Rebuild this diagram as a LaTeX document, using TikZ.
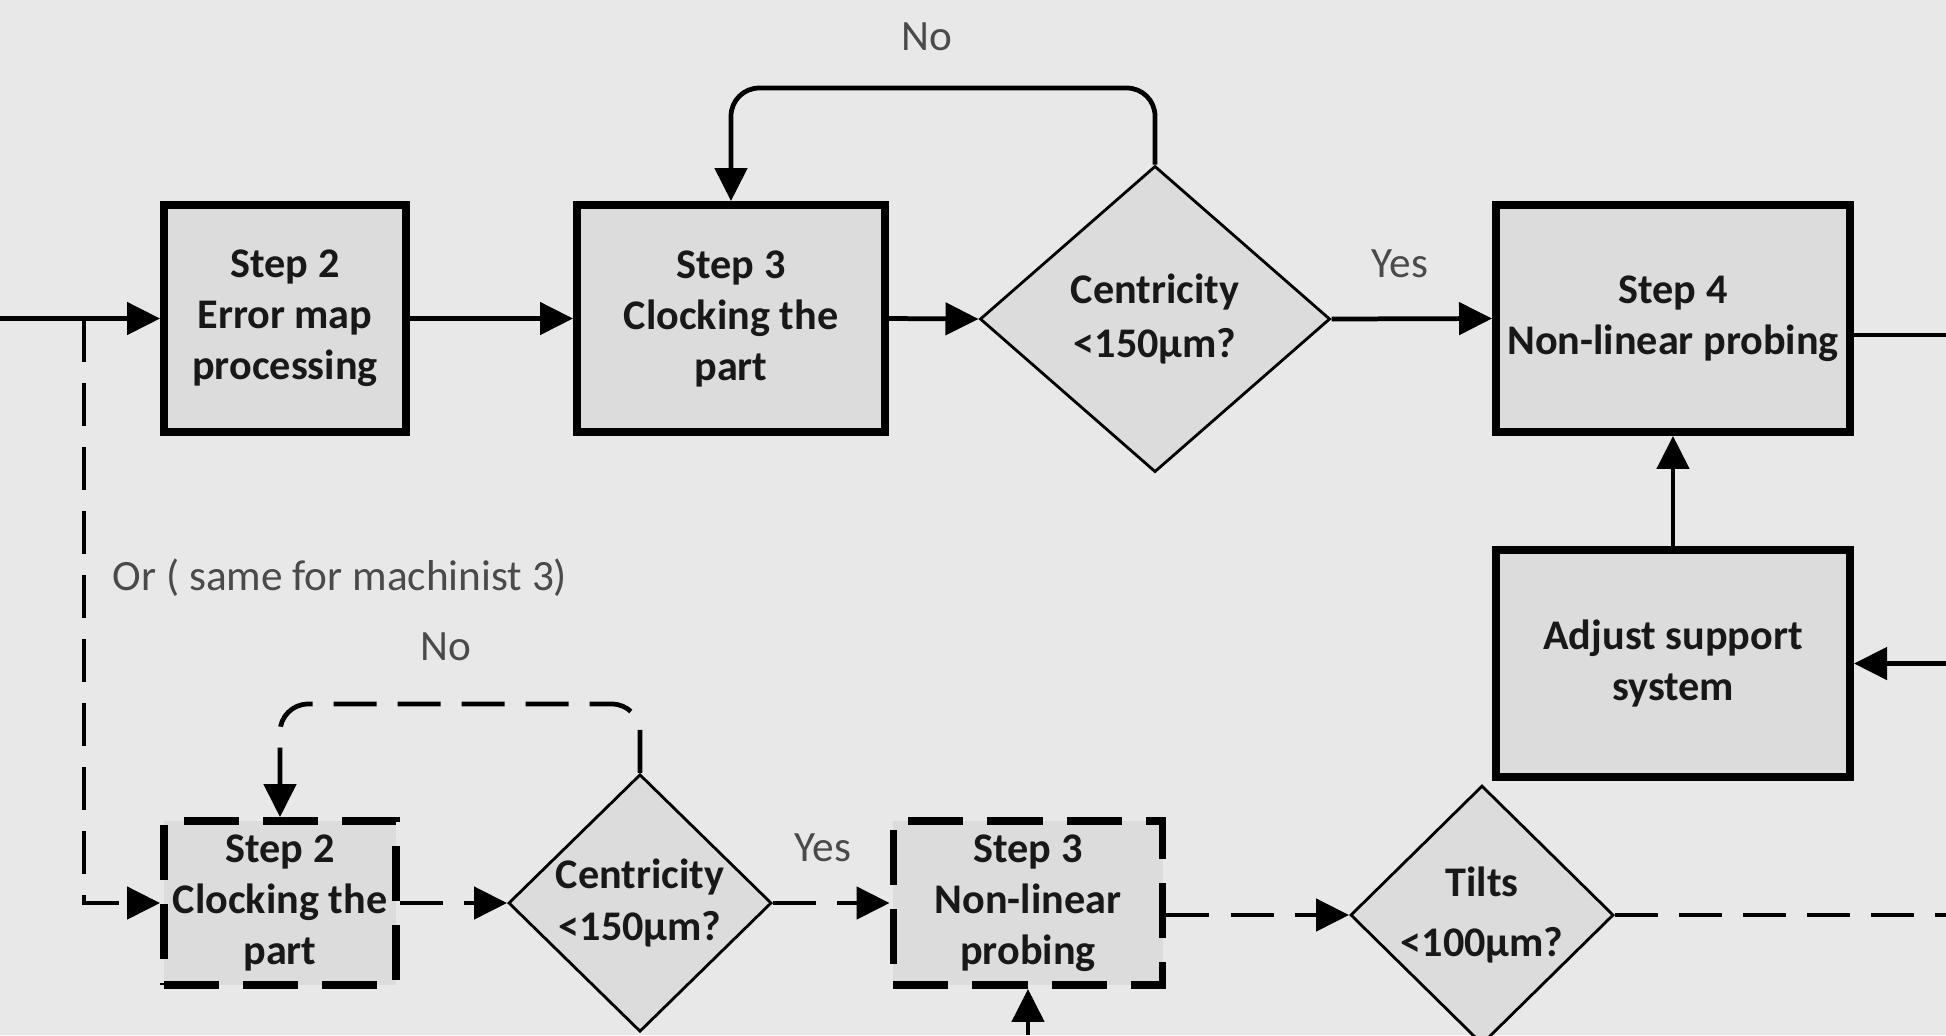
\documentclass[tikz,border=0pt]{standalone}
\usepackage{fontspec}
\setmainfont{Carlito}
\usetikzlibrary{arrows.meta,shapes.geometric}
\definecolor{bg}{HTML}{E8E8E8}
\definecolor{boxfill}{HTML}{DCDCDC}
\definecolor{txt}{HTML}{181818}
\definecolor{lbl}{HTML}{4A4A4A}
\begin{document}
\begin{tikzpicture}[x=0.01cm,y=-0.01cm,
 stepbox/.style={draw=black, line width=2.2pt, fill=boxfill, align=center, inner sep=0pt, font=\bfseries\fontsize{12}{14.5}\selectfont, text=txt},
 dstepbox/.style={stepbox, dash pattern=on 0.55cm off 0.24cm},
 dec/.style={diamond, draw=black, line width=0.8pt, fill=boxfill, align=center, inner sep=0pt, font=\bfseries\fontsize{12}{15.5}\selectfont, text=txt},
 conn/.style={line width=1.35pt, draw=black},
 arr/.style={conn, -{Triangle[length=0.33cm,width=0.32cm]}},
 dconn/.style={conn, dash pattern=on 0.43cm off 0.21cm},
 darr/.style={arr, dash pattern=on 0.43cm off 0.21cm},
 lab/.style={text=lbl, font=\fontsize{12.3}{14}\selectfont, inner sep=0pt}
]
\fill[bg] (0,0) rectangle (1946,1035);
\useasboundingbox (0,0) rectangle (1946,1035);

% top row
\node[stepbox, minimum width=2.42cm, minimum height=2.27cm] (s2t) at (285,318.5) {Step 2\\Error map\\processing};
\node[stepbox, minimum width=3.08cm, minimum height=2.27cm] (s3t) at (731,318.5) {Step 3\\Clocking the\\part};
\node[dec, minimum width=3.50cm, minimum height=3.06cm] (d1) at (1155,319) {Centricity\\<150µm?};
\node[stepbox, minimum width=3.54cm, minimum height=2.27cm] (s4) at (1673,318.5) {Step 4\\Non-linear probing};
\node[stepbox, minimum width=3.54cm, minimum height=2.27cm] (adj) at (1673,663.5) {Adjust support\\system};

% bottom row
\node[dstepbox, minimum width=2.32cm, minimum height=1.64cm] (s2b) at (280,903) {Step 2\\Clocking the\\part};
\node[dec, minimum width=2.63cm, minimum height=2.33cm, font=\bfseries\fontsize{12}{15}\selectfont] (d2) at (640,903) {Centricity\\<150µm?};
\node[dstepbox, minimum width=2.69cm, minimum height=1.64cm] (s3b) at (1028,903) {Step 3\\Non-linear\\probing};
\node[dec, minimum width=2.63cm, minimum height=2.32cm, font=\bfseries\fontsize{12}{17}\selectfont] (t) at (1482,915) {Tilts\\<100µm?};

% coordinates
\coordinate (in) at (0,318.5);
\coordinate (br) at (84,318.5);
\coordinate (n1) at (731,88);
\coordinate (n2) at (280,704);
\coordinate (rin) at (1946,663.5);
\coordinate (s4out) at (1946,335);
\coordinate (bin) at (1028,1035);
\coordinate (tout) at (1946,915);

% top connectors
\draw[arr] (in) -- (s2t.west);
\draw[arr] (s2t.east) -- (s3t.west);
\draw[arr] (s3t.east) -- (d1.west);
\draw[arr] (d1.east) -- (s4.west);
\draw[arr, rounded corners=8pt] (d1.north) |- (n1) -- (s3t.north);
\draw[arr] (adj.north) -- (s4.south);
\draw[arr] (rin) -- (adj.east);
\draw[conn] (s4.east |- s4out) -- (s4out);

% bottom connectors
\draw[darr] (br) |- (s2b.west);
\draw[darr, rounded corners=8pt] (d2.north) |- (n2) -- (s2b.north);
\draw[darr] (s2b.east) -- (d2.west);
\draw[darr] (d2.east) -- (s3b.west);
\draw[darr] (s3b.east |- t.west) -- (t.west);
\draw[arr] (bin) -- (s3b.south);
\draw[dconn] (t.east) -- (tout);

% labels
\node[lab] (lno1) at (927,37) {No};
\node[lab] (lyes1) at (1400,264) {Yes};
\node[lab] (lno2) at (446,647) {No};
\node[lab] (lyes2) at (823,848) {Yes};
\node[lab, anchor=west] (lor) at (112,578) {Or ( same for machinist 3)};
\end{tikzpicture}
\end{document}
